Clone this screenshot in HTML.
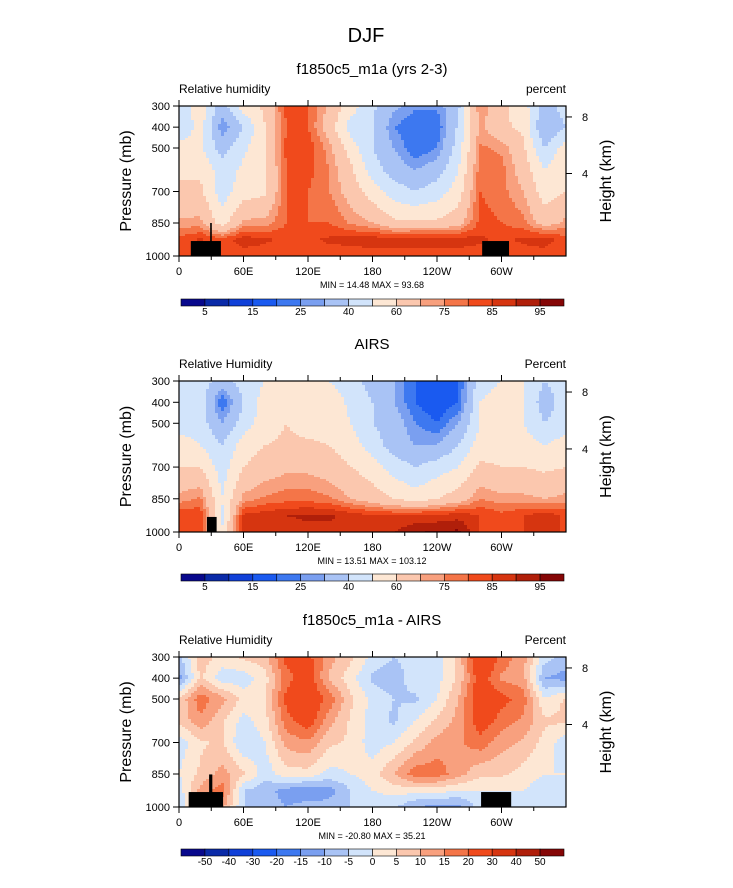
<!DOCTYPE html>
<html><head><meta charset="utf-8">
<style>
body{margin:0;background:#fff;}
svg{display:block;font-family:"Liberation Sans",sans-serif;}
</style></head>
<body>
<svg id="fig" width="733" height="888" viewBox="0 0 733 888" xmlns="http://www.w3.org/2000/svg">
<text x="366" y="42" font-size="20" text-anchor="middle">DJF</text>
</svg>
<script>
// ---- data ----
const lons = [0,20,40,60,80,100,120,140,160,180,200,220,240,260,280,300,320,340];
const levels = [300,400,500,600,700,850,925,1000];
const modelRH = [
 [45,40,55,60,60,72,82,80],[55,55,52,58,62,72,86,82],[35,25,35,45,45,55,82,80],
 [55,40,48,52,55,72,88,82],[62,60,58,58,58,72,86,82],[82,80,82,80,80,80,84,82],
 [80,80,84,82,80,80,84,82],[68,65,72,75,75,80,86,82],[55,45,55,62,66,74,87,82],
 [42,40,40,45,55,70,88,82],[32,25,30,35,45,62,88,82],[26,20,20,30,40,62,89,82],
 [26,20,25,35,45,62,89,82],[38,42,45,50,55,66,88,82],[75,72,76,78,80,82,86,82],
 [62,62,74,77,77,80,84,82],[55,58,62,66,70,77,86,82],[35,30,40,50,55,66,88,82]];
const airsRH = [
 [45,45,45,55,60,72,84,84],[45,45,45,50,60,76,84,84],[35,20,30,40,45,50,48,50],
 [45,40,45,55,60,72,86,86],[50,55,55,60,65,76,88,88],[55,60,60,62,68,78,90,88],
 [50,60,55,62,68,78,91,88],[50,55,55,60,65,76,91,88],[45,48,50,55,60,70,88,88],
 [35,40,40,45,55,65,85,88],[30,30,35,35,45,60,85,90],[20,20,25,30,40,55,86,94],
 [20,15,20,30,45,60,86,96],[20,20,30,40,50,65,88,96],[45,50,50,55,62,75,85,85],
 [50,55,50,55,60,72,82,82],[50,50,50,55,60,72,85,85],[40,35,40,50,58,70,88,88]];
const diffRH = [
 [-7,-12,6,6,-3,0,-3,-3],[8,6,18,14,4,6,12,6],[3,-3,12,6,6,12,18,12],
 [6,-3,3,-2,-5,6,-5,-5],[8,3,4,3,0,-3,-8,-8],[22,18,22,18,12,3,-12,-10],
 [22,24,26,24,14,3,-14,-8],[12,9,18,12,6,-2,-12,-8],[6,2,6,4,4,0,-5,-5],
 [-2,-6,-2,-2,-3,3,0,-3],[-5,-8,-5,-6,0,10,2,-4],[-3,-2,-6,0,6,18,2,-10],
 [-2,-2,0,6,12,18,2,-12],[6,6,10,12,14,12,0,-12],[30,24,26,24,18,6,0,-3],
 [18,14,22,18,12,6,0,-2],[12,12,18,14,9,3,0,-3],[-3,-10,0,6,3,0,-3,-3]];
const rhLevels = [5,10,15,20,25,30,40,50,60,70,75,80,85,90,95];
const rhTickLabels = ["5","15","25","40","60","75","85","95"];
const diffLevels = [-50,-40,-30,-20,-15,-10,-5,0,5,10,15,20,30,40,50];
const diffTickLabels = ["-50","-40","-30","-20","-15","-10","-5","0","5","10","15","20","30","40","50"];
const xTickLons = [0,60,120,180,240,300];
const xTickLabels = ["0","60E","120E","180","120W","60W"];
const yTickP = [300,400,500,700,850,1000];
const panelStats = [["14.48","93.68"],["13.51","103.12"],["-20.80","35.21"]];

const colors = ["#08088c","#0a2aa8","#1040d8","#1a5af0","#3d78f0","#7a9ff0","#a9c3f5","#d2e4fb",
 "#fde7d4","#fbc7ae","#f8a07e","#f47548","#f04a1c","#d63510","#b01f0a","#850606"];

const NS="http://www.w3.org/2000/svg";
const svg=document.getElementById('fig');
function el(tag,attrs,parent){const e=document.createElementNS(NS,tag);for(const k in attrs)e.setAttribute(k,attrs[k]);(parent||svg).appendChild(e);return e;}

const X0=179,X1=566;
const pT=[300,400,500,700,850,1000], pF=[0,0.141,0.28,0.57,0.78,1];
function pFrac(p){for(let i=0;i<pT.length-1;i++){if(p<=pT[i+1])return pF[i]+(p-pT[i])/(pT[i+1]-pT[i])*(pF[i+1]-pF[i]);}return 1;}
const levF = levels.map(pFrac);
function xOf(lon){return X0+lon/360*(X1-X0);}
function colorFor(v,lv){let i=0;while(i<lv.length&&v>=lv[i])i++;return colors[i];}
function sample(grid,lon,f){
  let ci=Math.floor(lon/20), t=(lon-ci*20)/20; let c0=ci%18,c1=(ci+1)%18;
  let r=0;while(r<levF.length-2&&f>levF[r+1])r++;
  let s=(f-levF[r])/(levF[r+1]-levF[r]); s=Math.max(0,Math.min(1,s));
  const a=grid[c0][r]*(1-t)+grid[c1][r]*t, b=grid[c0][r+1]*(1-t)+grid[c1][r+1]*t;
  return a*(1-s)+b*s;
}

function panel(idx,Y0,Y1,grid,lv,title,left,right,cbY,tickLabels,land){
  const H=Y1-Y0;
  const g=el('g',{});
  
  
  const t=el('text',{x:372,y:Y0-32,'font-size':15,'text-anchor':'middle'},g);t.textContent=title;
  
  const l=el('text',{x:179,y:Y0-13,'font-size':12},g);l.textContent=left;
  
  const r=el('text',{x:566,y:Y0-13,'font-size':12,'text-anchor':'end'},g);r.textContent=right;
  
  const field=el('g',{'shape-rendering':'crispEdges'},g);
  
  
  const sx=3,sy=2;
  for(let x=X0;x<X1;x+=sx){
    const lon=(x+sx/2-X0)/(X1-X0)*360;
    let cur=null, start=Y0;
    for(let y=Y0;;y+=sy){
      const done=y>=Y1;
      let c=null;
      if(!done){const v=sample(grid,lon,Math.min(1,(y+sy/2-Y0)/H));c=colorFor(v,lv);}
      if(c!==cur||done){
        if(cur!==null){const rc=el('rect',{x:x,y:start,width:Math.min(sx,X1-x),height:Math.min(y,Y1)-start,fill:cur},field);
          }
        cur=c;start=y;
      }
      if(done)break;
    }
  }
  land.forEach(b=>{const rc=el('rect',{x:xOf(b[0]),y:Y0+pFrac(b[2])*H,width:xOf(b[1])-xOf(b[0]),height:Y1-(Y0+pFrac(b[2])*H),fill:'#000'},g);
    });
  const fr=el('rect',{x:X0,y:Y0,width:X1-X0,height:H,fill:'none',stroke:'#000','stroke-width':1.2},g);
  
  for(let lon=0;lon<360;lon+=30){const x=xOf(lon);const major=lon%60===0;const len=major?6:4;
    el('line',{x1:x,y1:Y1,x2:x,y2:Y1+len,stroke:'#000'},g);el('line',{x1:x,y1:Y0,x2:x,y2:Y0-len,stroke:'#000'},g);}
  xTickLons.forEach((lon,i)=>{const tx=el('text',{x:xOf(lon),y:Y1+19,'font-size':11,'text-anchor':'middle'},g);tx.textContent=xTickLabels[i];
    });
  yTickP.forEach(p=>{const y=Y0+pFrac(p)*H;el('line',{x1:X0-6,y1:y,x2:X0,y2:y,stroke:'#000'},g);
    const tx=el('text',{x:X0-9,y:y+4,'font-size':11,'text-anchor':'end'},g);tx.textContent=p;
    });
  [[8,0.073],[4,0.45]].forEach(h=>{const y=Y0+h[1]*H;el('line',{x1:X1,y1:y,x2:X1+6,y2:y,stroke:'#000'},g);
    const tx=el('text',{x:X1+16,y:y+4,'font-size':11},g);tx.textContent=h[0];
    });
  const yl=el('text',{x:0,y:0,'font-size':16,'text-anchor':'middle',transform:`translate(131,${(Y0+Y1)/2}) rotate(-90)`},g);yl.textContent='Pressure (mb)';
  
  const yr=el('text',{x:0,y:0,'font-size':16,'text-anchor':'middle',transform:`translate(611,${(Y0+Y1)/2}) rotate(-90)`},g);yr.textContent='Height (km)';
  
  const mm=el('text',{x:372,y:Y1+32,'font-size':9,'text-anchor':'middle','xml:space':'preserve'},g);
  mm.textContent='MIN = '+panelStats[idx][0]+'  MAX = '+panelStats[idx][1];
  
  const cb=el('g',{},g);
  const cx0=181,cx1=564,bw=(cx1-cx0)/16;
  colors.forEach((c,i)=>{const rc=el('rect',{x:cx0+i*bw,y:cbY,width:bw,height:7,fill:c,stroke:'#000','stroke-width':0.6},cb);
    });
  const step=tickLabels.length===8?2:1;
  tickLabels.forEach((s,i)=>{const b=1+i*step;const tx=el('text',{x:cx0+b*bw,y:cbY+16,'font-size':10,'text-anchor':'middle'},cb);tx.textContent=s;
    });
}
panel(0,106,256,modelRH,rhLevels,'f1850c5_m1a (yrs 2-3)','Relative humidity','percent',299,rhTickLabels,
  [[11,39,932],[29,30.5,850],[282,307,932]]);
panel(1,381,532,airsRH,rhLevels,'AIRS','Relative Humidity','Percent',574,rhTickLabels,[[26,35,932]]);
panel(2,657,807,diffRH,diffLevels,'f1850c5_m1a - AIRS','Relative Humidity','Percent',849,diffTickLabels,
  [[9,41,932],[28,31,852],[281,309,932]]);
</script>
</body></html>
